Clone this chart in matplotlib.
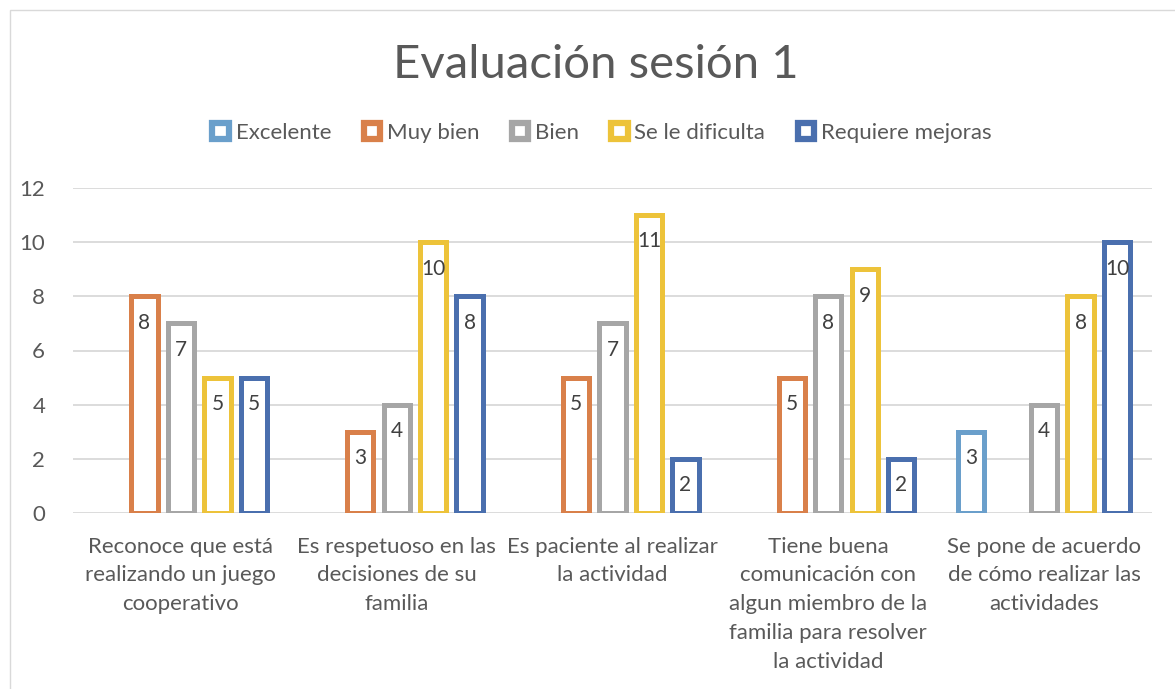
import matplotlib
matplotlib.use("Agg")
import matplotlib.pyplot as plt
from matplotlib.patches import Patch, Rectangle
import numpy as np

plt.rcParams['font.family'] = ['Lato', 'DejaVu Sans']

categorias = ["Reconoce que está\nrealizando un juego\ncooperativo",
              "Es respetuoso en las\ndecisiones de su\nfamilia",
              "Es paciente al realizar\nla actividad",
              "Tiene buena\ncomunicación con\nalgun miembro de la\nfamilia para resolver\nla actividad",
              "Se pone de acuerdo\nde cómo realizar las\nactividades"]
series = ["Excelente", "Muy bien", "Bien", "Se le dificulta", "Requiere mejoras"]
excelente = [0, 0, 0, 0, 3]
muy_bien = [8, 3, 5, 5, 0]
bien = [7, 4, 7, 8, 4]
se_le_dificulta = [5, 10, 11, 9, 8]
requiere_mejoras = [5, 8, 2, 2, 10]
valores = [excelente, muy_bien, bien, se_le_dificulta, requiere_mejoras]
colores = ["#6A9FCB", "#D9804A", "#A6A6A6", "#EDC33A", "#4A6FAE"]

gris = "#595959"

fig = plt.figure(figsize=(11.75, 6.89), dpi=100)
ax = fig.add_axes([73 / 1175, 1 - 513 / 689, (1152 - 73) / 1175, (513 - 188) / 689])

# borde del gráfico
fig.patches.append(Rectangle((10 / 1175, -0.1), 1.2, 1 - 10 / 689 + 0.1,
                             transform=fig.transFigure, fill=False,
                             edgecolor="#D9D9D9", lw=1))

x = np.arange(len(categorias))
paso = 0.169
ancho = 0.122
for i, (nombre, vals, col) in enumerate(zip(series, valores, colores)):
    pos = x + (i - 2) * paso
    for p, v in zip(pos, vals):
        if v == 0:
            continue
        ax.bar(p, v, width=ancho, facecolor="white", edgecolor=col, linewidth=3.6, zorder=3)
        ax.annotate(str(v), (p, v), xytext=(0, -19), textcoords="offset points",
                    ha="center", va="center", fontsize=15, color="#404040", zorder=4)

ax.set_xlim(-0.5, len(categorias) - 0.5)
ax.set_ylim(0, 12)
ax.set_yticks(range(0, 13, 2))
ax.set_xticks(x)
ax.set_xticklabels(categorias, fontsize=16, color=gris, linespacing=1.55, va="top")
ax.tick_params(axis="y", labelsize=16, labelcolor=gris, length=0, pad=20)
ax.tick_params(axis="x", length=0, pad=17)
ax.grid(axis="y", color="#D9D9D9", lw=1.3, zorder=0)
for s in ax.spines.values():
    s.set_visible(False)

fig.text(596 / 1175, 1 - 65 / 689, "Evaluación sesión 1", ha="center", va="center",
         fontsize=34, color=gris)

handles = [Patch(facecolor="white", edgecolor=c, linewidth=4.5) for c in colores]
fig.legend(handles, series, loc="center", bbox_to_anchor=(602 / 1175, 1 - 133 / 689),
           ncol=5, frameon=False, fontsize=16, labelcolor=gris,
           handlelength=0.75, handleheight=0.75, handletextpad=0.3, columnspacing=1.45)

fig.savefig("out.png", dpi=100)
